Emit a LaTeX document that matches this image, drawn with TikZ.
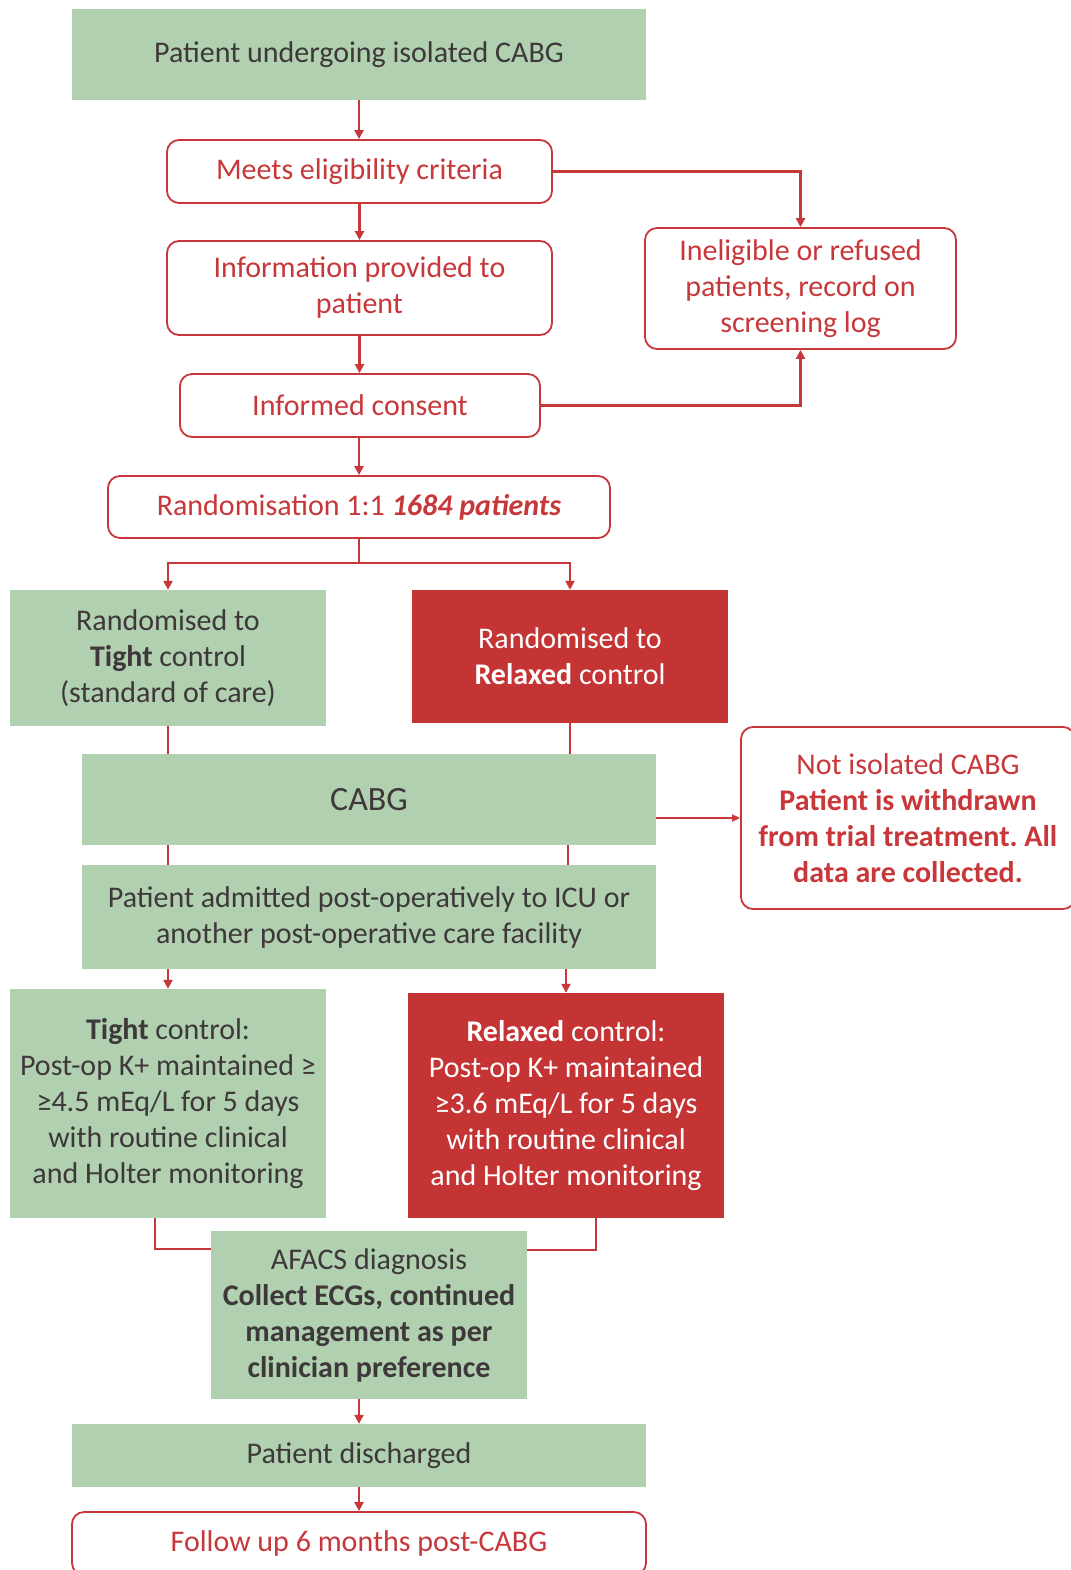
\documentclass[tikz,border=0pt]{standalone}
\usepackage{fontspec}
\setmainfont{Carlito}
\usetikzlibrary{arrows.meta}
\definecolor{gfill}{RGB}{176,208,176}
\definecolor{rfill}{RGB}{197,52,52}
\definecolor{rline}{RGB}{200,55,58}
\definecolor{dtext}{RGB}{62,56,58}
\newcommand\myfs{\fontsize{30}{36}\selectfont\frenchspacing}
\newcommand\mybig{\fontsize{34}{40}\selectfont}
\begin{document}
\begin{tikzpicture}[x=1pt,y=-1pt,
  base/.style={align=center, inner sep=0pt, font=\myfs},
  gbox/.style={base, fill=gfill, text=dtext},
  rbox/.style={base, fill=rfill, text=white},
  wbox/.style={base, draw=rline, line width=1.8pt, rounded corners=12pt, fill=white, text=rline},
  conn/.style={draw=rline, line width=2.6pt},
  arr/.style={conn, -{Triangle[length=9pt,width=9pt]}},
  thinarr/.style={draw=rline, line width=1.6pt, -{Triangle[length=8pt,width=7pt]}}
]
\useasboundingbox[fill=white] (0,0) rectangle (1070,1570);

\node[gbox, minimum width=574, minimum height=91] (top) at (359,54.5) {Patient undergoing isolated CABG};
\node[wbox, minimum width=385, minimum height=63] (meets) at (359.5,171.5) {Meets eligibility criteria};
\node[wbox, minimum width=385, minimum height=94] (info) at (359.5,288) {Information provided to\\patient};
\node[wbox, minimum width=360, minimum height=63] (consent) at (360,405.5) {Informed consent};
\node[wbox, minimum width=502, minimum height=62] (rand) at (359,507) {Randomisation 1:1 \textbf{\textit{1684 patients}}};
\node[wbox, minimum width=311, minimum height=121] (inel) at (800.5,288.5) {Ineligible or refused\\patients, record on\\screening log};
\node[gbox, minimum width=316, minimum height=136] (tightr) at (168,658) {Randomised to\\\textbf{Tight} control\\(standard of care)};
\node[rbox, minimum width=316, minimum height=133] (relaxr) at (570,656.5) {Randomised to\\\textbf{Relaxed} control};
\node[gbox, minimum width=574, minimum height=91, font=\mybig] (cabg) at (369,799.5) {CABG};
\node[wbox, minimum width=334, minimum height=182] (notiso) at (908,818) {Not isolated CABG\\\textbf{Patient is withdrawn}\\\textbf{from trial treatment. All}\\\textbf{data are collected.}};
\node[gbox, minimum width=574, minimum height=104] (admit) at (369,917) {Patient admitted post-operatively to ICU or\\another post-operative care facility};
\node[gbox, minimum width=316, minimum height=229] (tightc) at (168,1103.5) {\textbf{Tight} control:\\Post-op K+ maintained ≥\\≥4.5 mEq/L for 5 days\\with routine clinical\\and Holter monitoring};
\node[rbox, minimum width=316, minimum height=225] (relaxc) at (566,1105.5) {\textbf{Relaxed} control:\\Post-op K+ maintained\\≥3.6 mEq/L for 5 days\\with routine clinical\\and Holter monitoring};
\node[gbox, minimum width=316, minimum height=168] (afacs) at (369,1315) {AFACS diagnosis\\\textbf{Collect ECGs, continued}\\\textbf{management as per}\\\textbf{clinician preference}};
\node[gbox, minimum width=574, minimum height=63] (disch) at (359,1455.5) {Patient discharged};
\node[wbox, minimum width=574, minimum height=63] (follow) at (359,1543.5) {Follow up 6 months post-CABG};

\draw[arr] (top.south) -- (top.south |- meets.north);
\draw[arr] (meets.south) -- (info.north);
\draw[arr] (meets.east) -| (inel.north);
\draw[arr] (info.south) -- (info.south |- consent.north);
\draw[arr] (consent.east) -| (inel.south);
\draw[arr] (rand.south |- consent.south) -- (rand.north);
\coordinate (split) at (359,563);
\draw[conn] (rand.south) -- (split);
\draw[arr] (split) -| (tightr.north);
\draw[arr] (split) -| (relaxr.north);
\draw[conn] (tightr.south) -- (tightr.south |- cabg.north);
\draw[conn] (relaxr.south) -- (relaxr.south |- cabg.north);
\draw[conn] (cabg.south -| tightr.south) -- (admit.north -| tightr.south);
\draw[conn] ([xshift=-2pt]cabg.south -| relaxr.south) -- ([xshift=-2pt]admit.north -| relaxr.south);
\draw[thinarr] (cabg.east |- notiso.west) -- (notiso.west);
\draw[arr] (admit.south -| tightc.north) -- (tightc.north);
\draw[arr] (admit.south -| relaxc.north) -- (relaxc.north);
\draw[conn] ([xshift=-13pt]tightc.south) |- ([yshift=-18pt]afacs.north west);
\draw[conn] ([xshift=30pt]relaxc.south) |- ([yshift=-19pt]afacs.north east);
\draw[arr] (disch.north |- afacs.south) -- (disch.north);
\draw[arr] (disch.south) -- (follow.north);
\end{tikzpicture}
\end{document}
